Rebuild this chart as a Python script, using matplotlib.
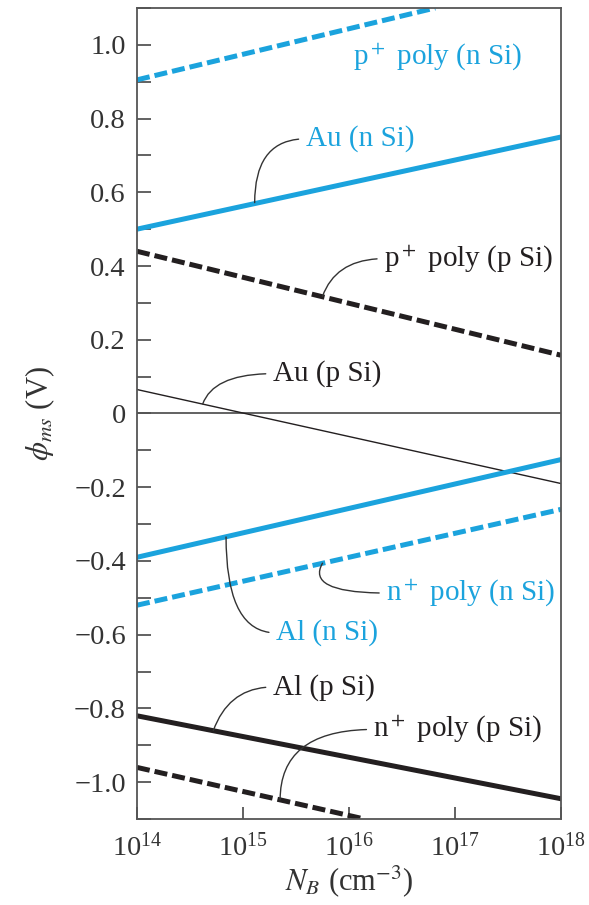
import numpy as np
import matplotlib
matplotlib.use("Agg")
import matplotlib.pyplot as plt
from matplotlib.ticker import MultipleLocator, LogLocator, LogFormatterMathtext, NullLocator

plt.rcParams['font.family'] = ['Liberation Serif', 'DejaVu Serif']
plt.rcParams['mathtext.fontset'] = 'stix'

BLUE = '#1ba3dd'
BLACK = '#231f20'

# phi_ms (V) vs N_B (cm^-3)
nb_pp_nsi = [1e14, 6.5e16]
phi_pp_nsi = [0.905, 1.10]      # p+ poly (n Si)
nb_au_nsi = [1e14, 1e18]
phi_au_nsi = [0.50, 0.75]       # Au (n Si)
nb_pp_psi = [1e14, 1e18]
phi_pp_psi = [0.44, 0.158]      # p+ poly (p Si)
nb_au_psi = [1e14, 1e18]
phi_au_psi = [0.065, -0.19]     # Au (p Si)
nb_al_nsi = [1e14, 1e18]
phi_al_nsi = [-0.39, -0.125]    # Al (n Si)
nb_np_nsi = [1e14, 1e18]
phi_np_nsi = [-0.52, -0.26]     # n+ poly (n Si)
nb_al_psi = [1e14, 1e18]
phi_al_psi = [-0.82, -1.045]    # Al (p Si)
nb_np_psi = [1e14, 1.4e16]
phi_np_psi = [-0.96, -1.10]     # n+ poly (p Si)

fig = plt.figure(figsize=(5.89, 9.05), dpi=100)
ax = fig.add_axes([0.2326, 0.095, 0.7199, 0.8962])

dash = (2.6, 1.0)
ax.axhline(0, color='#555555', lw=1.3, zorder=1)
ax.plot(nb_pp_nsi, phi_pp_nsi, color=BLUE, lw=3.6, dashes=dash)
ax.plot(nb_au_nsi, phi_au_nsi, color=BLUE, lw=3.6)
ax.plot(nb_pp_psi, phi_pp_psi, color=BLACK, lw=3.6, dashes=dash)
ax.plot(nb_au_psi, phi_au_psi, color=BLACK, lw=1.0)
ax.plot(nb_al_nsi, phi_al_nsi, color=BLUE, lw=3.6)
ax.plot(nb_np_nsi, phi_np_nsi, color=BLUE, lw=3.6, dashes=dash)
ax.plot(nb_al_psi, phi_al_psi, color=BLACK, lw=3.6)
ax.plot(nb_np_psi, phi_np_psi, color=BLACK, lw=3.6, dashes=dash)

ax.set_xscale('log')
ax.set_xlim(1e14, 1e18)
ax.set_ylim(-1.1, 1.1)

ax.xaxis.set_major_locator(LogLocator(base=10, numticks=10))
ax.xaxis.set_major_formatter(LogFormatterMathtext())
ax.xaxis.set_minor_locator(NullLocator())
ax.yaxis.set_major_locator(MultipleLocator(0.2))
ax.yaxis.set_minor_locator(MultipleLocator(0.1))
ax.yaxis.set_major_formatter(plt.FuncFormatter(
    lambda v, p: '0' if abs(v) < 1e-9 else f'{v:.1f}'.replace('-', '\u2212')))

ax.tick_params(axis='both', which='both', direction='in', color='#555555',
               width=1.3, labelsize=20.5, labelcolor='#333333', top=False, right=False)
ax.tick_params(axis='y', which='both', length=10, pad=8)
ax.tick_params(axis='x', which='major', length=9, pad=10)
for s in ax.spines.values():
    s.set_color('#555555')
    s.set_linewidth(1.3)

ax.set_ylabel(r'$\phi_{ms}$ (V)', fontsize=22, color='#333333', labelpad=12)
ax.set_xlabel(r'$N_B$ (cm$^{-3}$)', fontsize=22, color='#333333', labelpad=1)

# labels with leader lines: (text, point on curve, text position, color, angleB)
notes = [
    ('Au (n Si)', (10**15.11, 0.572), (10**15.59, 0.745), BLUE, 90),
    ('p$^+$ poly (p Si)', (10**15.75, 0.318), (10**16.33, 0.42), BLACK, 70),
    ('Au (p Si)', (10**14.62, 0.026), (10**15.28, 0.108), BLACK, 70),
    ('Al (n Si)', (10**14.84, -0.335), (10**15.31, -0.595), BLUE, 90),
    ('n$^+$ poly (n Si)', (10**15.75, -0.406), (10**16.35, -0.487), BLUE, 60),
    ('Al (p Si)', (10**14.72, -0.86), (10**15.28, -0.742), BLACK, 70),
    ('n$^+$ poly (p Si)', (10**15.35, -1.048), (10**16.23, -0.857), BLACK, 90),
]
for txt, xy, xyt, col, angb in notes:
    ax.annotate(txt, xy=xy, xytext=xyt, textcoords='data', ha='left', va='center',
                fontsize=21, color=col,
                arrowprops=dict(arrowstyle='-', color='#333333', lw=1.0,
                                shrinkA=3, shrinkB=0, relpos=(0, 0.5),
                                connectionstyle=f'angle3,angleA=0,angleB={angb}'))

ax.text(10**16.04, 0.967, 'p$^+$ poly (n Si)', ha='left', va='center',
        fontsize=21, color=BLUE)

fig.savefig('out.png', dpi=100)
